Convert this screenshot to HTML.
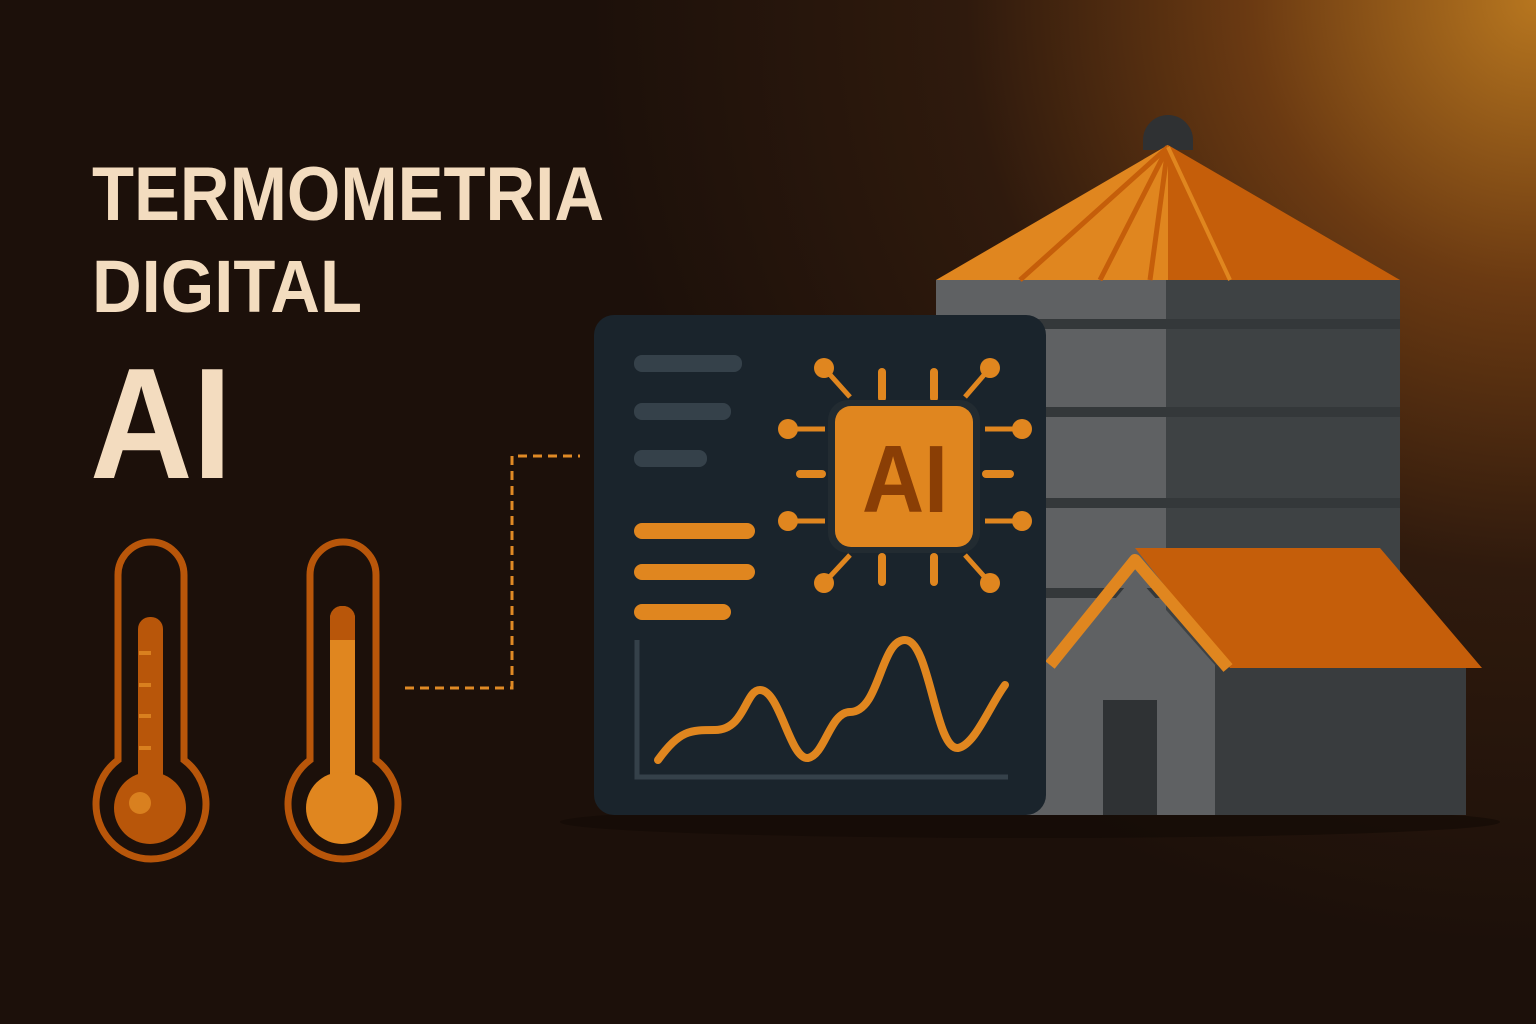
<!DOCTYPE html>
<html><head><meta charset="utf-8"><style>html,body{margin:0;padding:0;background:#1c100a}svg{display:block}</style></head>
<body>
<svg width="1536" height="1024" viewBox="0 0 1536 1024" xmlns="http://www.w3.org/2000/svg">
<defs>
<radialGradient id="bg" cx="1536" cy="0" r="950" gradientUnits="userSpaceOnUse">
<stop offset="0" stop-color="#b7761f"/>
<stop offset="0.3" stop-color="#6b3a12"/>
<stop offset="0.6" stop-color="#2f1a0d"/>
<stop offset="1" stop-color="#1c100a"/>
</radialGradient>
</defs>
<rect width="1536" height="1024" fill="#1c100a"/>
<rect width="1536" height="1024" fill="url(#bg)"/>
<g font-family="Liberation Sans, sans-serif" fill="#f3dcbf" font-weight="bold">
<text x="92" y="220" font-size="76" textLength="512" lengthAdjust="spacingAndGlyphs">TERMOMETRIA</text>
<text x="92" y="312" font-size="74" textLength="270" lengthAdjust="spacingAndGlyphs">DIGITAL</text>
<text x="90" y="478" font-size="158" textLength="142" lengthAdjust="spacingAndGlyphs">AI</text>
</g>
<g stroke="#b8560a" stroke-width="7" fill="none">
<path d="M118 760 V575 a33 33 0 0 1 66 0 V760 a55 55 0 1 1 -66 0 Z"/>
<path d="M310 760 V575 a33 33 0 0 1 66 0 V760 a55 55 0 1 1 -66 0 Z"/>
</g>
<rect x="138" y="617" width="25" height="170" rx="12" fill="#b8560a"/>
<circle cx="150" cy="808" r="36" fill="#b8560a"/>
<circle cx="140" cy="803" r="11" fill="#d9801f"/>
<g stroke="#d9801f" stroke-width="4"><line x1="139" y1="653" x2="151" y2="653"/><line x1="139" y1="685" x2="151" y2="685"/><line x1="139" y1="716" x2="151" y2="716"/><line x1="139" y1="748" x2="151" y2="748"/></g>
<rect x="330" y="606" width="25" height="180" rx="12" fill="#e0861f"/>
<rect x="330" y="606" width="25" height="34" rx="12" fill="#b8560a"/>
<rect x="330" y="625" width="25" height="15" fill="#b8560a"/>
<circle cx="342" cy="808" r="36" fill="#e0861f"/>
<path d="M405 688 H512 V456 H580" stroke="#e08a25" stroke-width="3" fill="none" stroke-dasharray="9 6"/>
<ellipse cx="1030" cy="822" rx="470" ry="16" fill="#140b06" opacity="0.7"/>
<path d="M1143 140 a25 25 0 0 1 50 0 v10 h-50z" fill="#2f3133"/>
<rect x="936" y="280" width="232" height="535" fill="#5f6163"/>
<rect x="1166" y="280" width="234" height="535" fill="#3e4244"/>
<g fill="#34383a"><rect x="936" y="319" width="464" height="10"/><rect x="936" y="407" width="464" height="10"/><rect x="936" y="498" width="464" height="10"/><rect x="936" y="588" width="464" height="10"/></g>
<polygon points="1168,145 936,280 1168,280" fill="#e0861f"/>
<polygon points="1168,145 1400,280 1168,280" fill="#c55e0a"/>
<g stroke="#c55e0a" stroke-width="5"><line x1="1168" y1="147" x2="1020" y2="280"/><line x1="1168" y1="147" x2="1100" y2="280"/><line x1="1168" y1="147" x2="1150" y2="280"/></g>
<g stroke="#e0861f" stroke-width="4"><line x1="1168" y1="147" x2="1230" y2="280"/></g>
<rect x="1213" y="665" width="253" height="150" fill="#393c3e"/>
<polygon points="1060,665 1135,575 1215,665 1215,815 1060,815" fill="#5f6163"/>
<rect x="1103" y="700" width="54" height="115" fill="#2f3234"/>
<polygon points="1135,548 1380,548 1482,668 1230,668" fill="#c55e0a"/>
<path d="M1050 665 L1135 560 L1228 668" stroke="#e0861f" stroke-width="12" fill="none" stroke-linejoin="round"/>
<rect x="594" y="315" width="452" height="500" rx="20" fill="#1a242c"/>
<g fill="#35414a"><rect x="634" y="355" width="108" height="17" rx="8"/><rect x="634" y="403" width="97" height="17" rx="8"/><rect x="634" y="450" width="73" height="17" rx="8"/></g>
<g fill="#e0861f"><rect x="634" y="523" width="121" height="16" rx="8"/><rect x="634" y="564" width="121" height="16" rx="8"/><rect x="634" y="604" width="97" height="16" rx="8"/></g>
<path d="M637 640 V777 H1008" stroke="#35414a" stroke-width="5" fill="none"/>
<path d="M658 760 C680 730 690 730 715 730 C745 730 745 690 760 690 C780 690 790 760 808 758 C825 755 830 712 850 712 C880 712 880 640 905 640 C930 640 935 750 958 748 C975 745 990 705 1005 685" stroke="#e0861f" stroke-width="8" fill="none" stroke-linecap="round"/>
<g stroke="#e0861f" stroke-width="8" stroke-linecap="round">
<line x1="882" y1="372" x2="882" y2="398"/><line x1="934" y1="372" x2="934" y2="398"/>
<line x1="882" y1="557" x2="882" y2="582"/><line x1="934" y1="557" x2="934" y2="582"/>
<line x1="800" y1="474" x2="822" y2="474"/><line x1="986" y1="474" x2="1010" y2="474"/>
</g>
<g stroke="#e0861f" stroke-width="5">
<line x1="824" y1="368" x2="850" y2="397"/><line x1="990" y1="368" x2="965" y2="397"/>
<line x1="824" y1="583" x2="850" y2="555"/><line x1="990" y1="583" x2="965" y2="555"/>
<line x1="788" y1="429" x2="825" y2="429"/><line x1="1022" y1="429" x2="985" y2="429"/>
<line x1="788" y1="521" x2="825" y2="521"/><line x1="1022" y1="521" x2="985" y2="521"/>
</g>
<g fill="#e0861f">
<circle cx="824" cy="368" r="10"/><circle cx="990" cy="368" r="10"/><circle cx="824" cy="583" r="10"/><circle cx="990" cy="583" r="10"/>
<circle cx="788" cy="429" r="10"/><circle cx="1022" cy="429" r="10"/><circle cx="788" cy="521" r="10"/><circle cx="1022" cy="521" r="10"/>
</g>
<rect x="828" y="400" width="152" height="153" rx="20" fill="#222b31"/>
<rect x="835" y="406" width="138" height="141" rx="16" fill="#e0861f"/>
<text x="905" y="512" font-family="Liberation Sans, sans-serif" font-weight="bold" font-size="96" fill="#8a3e05" text-anchor="middle" textLength="86" lengthAdjust="spacingAndGlyphs">AI</text>
</svg>
</body></html>
